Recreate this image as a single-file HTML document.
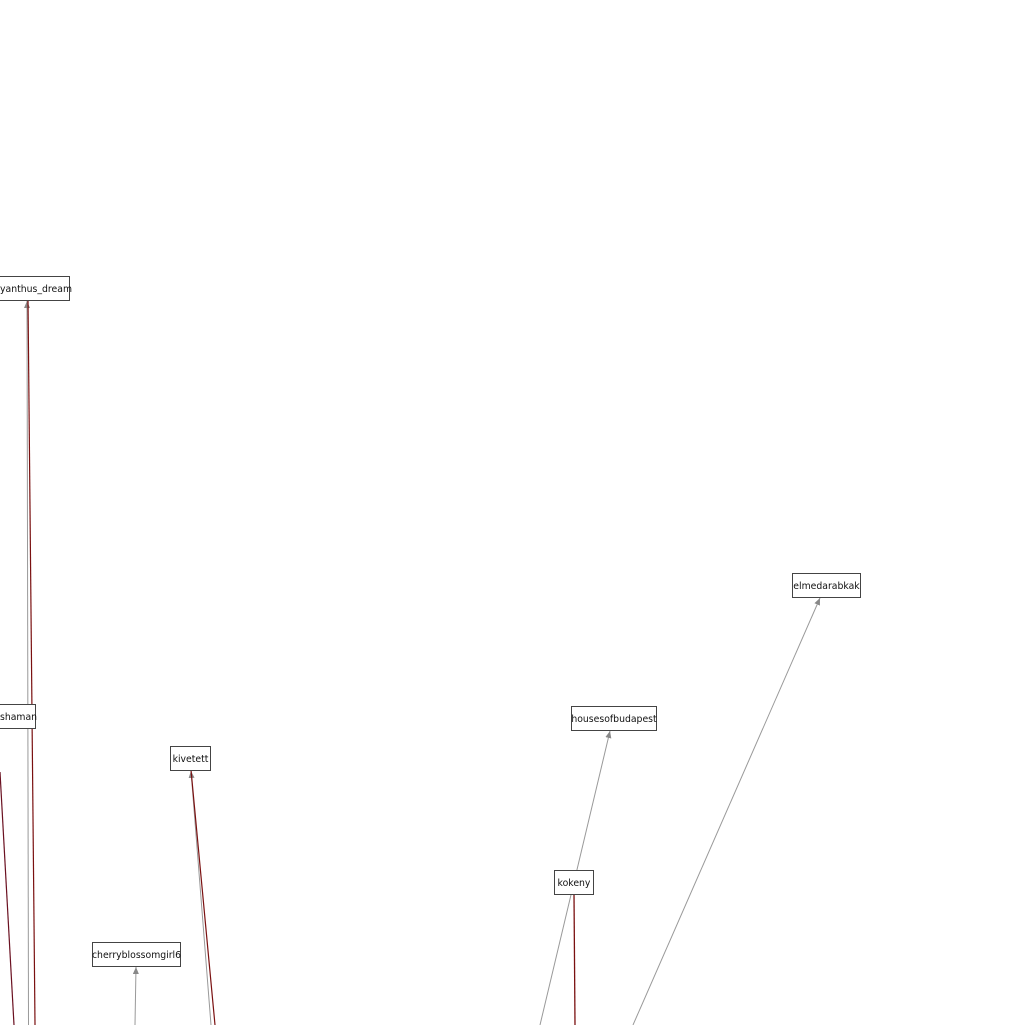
<!DOCTYPE html>
<html><head><meta charset="utf-8"><style>
html,body{margin:0;padding:0;background:#fff;width:1025px;height:1025px;overflow:hidden}
svg{display:block}
text{font-family:"DejaVu Sans","Liberation Sans",sans-serif;font-size:9.3px;fill:#111}
rect{fill:#fff;stroke:#444;stroke-width:1}
</style></head><body>
<svg width="1025" height="1025" viewBox="0 0 1025 1025" xmlns="http://www.w3.org/2000/svg">
<defs>
<marker id="a" markerWidth="8" markerHeight="8" refX="7" refY="3" orient="auto" markerUnits="userSpaceOnUse">
<path d="M0,0 L7,3 L0,6 z" fill="#888"/></marker>
</defs>
<g fill="none">
<line x1="28.5" y1="1025" x2="27" y2="301" stroke="#999" stroke-width="1" marker-end="url(#a)"/>
<line x1="35" y1="1025" x2="28" y2="300" stroke="#7a1010" stroke-width="1.2"/>
<line x1="0" y1="772" x2="14" y2="1025" stroke="#6a1020" stroke-width="1.2"/>
<line x1="211" y1="1025" x2="191" y2="771" stroke="#999" stroke-width="1" marker-end="url(#a)"/>
<line x1="215" y1="1025" x2="191" y2="770" stroke="#7a1010" stroke-width="1.2"/>
<line x1="135" y1="1025" x2="136" y2="967" stroke="#999" stroke-width="1" marker-end="url(#a)"/>
<line x1="575" y1="1025" x2="574" y2="894" stroke="#7a1010" stroke-width="1.3"/>
<line x1="540" y1="1025" x2="610" y2="731" stroke="#999" stroke-width="1" marker-end="url(#a)"/>
<line x1="633" y1="1025" x2="820" y2="598" stroke="#999" stroke-width="1" marker-end="url(#a)"/>
</g>
<rect x="-40.5" y="276.5" width="110" height="24"/>
<text x="0" y="292">yanthus_dream</text>
<rect x="-20.5" y="704.5" width="56" height="24"/>
<text x="0" y="720">shaman</text>
<rect x="170.5" y="746.5" width="40" height="24"/>
<text x="190.5" y="762" text-anchor="middle">kivetett</text>
<rect x="92.5" y="942.5" width="88" height="24"/>
<text x="136.5" y="958" text-anchor="middle">cherryblossomgirl6</text>
<rect x="554.5" y="870.5" width="39" height="24"/>
<text x="574" y="886" text-anchor="middle">kokeny</text>
<rect x="571.5" y="706.5" width="85" height="24"/>
<text x="614" y="722" text-anchor="middle">housesofbudapest</text>
<rect x="792.5" y="573.5" width="68" height="24"/>
<text x="826.5" y="589" text-anchor="middle">elmedarabkak</text>
</svg>
</body></html>
